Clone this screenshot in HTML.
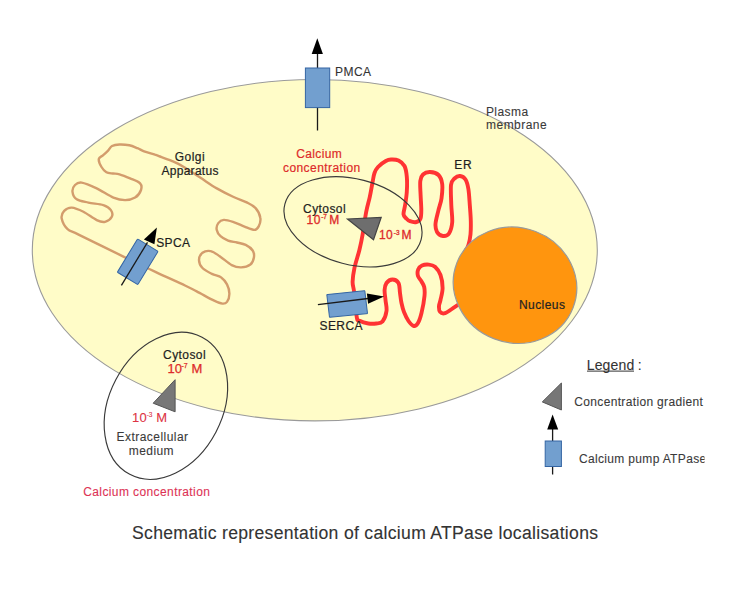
<!DOCTYPE html>
<html><head><meta charset="utf-8"><style>
html,body{margin:0;padding:0;background:#fff;width:734px;height:599px;overflow:hidden}
svg{display:block}
text{font-family:"Liberation Sans", sans-serif}
</style></head><body>
<svg width="734" height="599" viewBox="0 0 734 599">
<defs><clipPath id="clip"><rect x="0" y="0" width="704.5" height="599"/></clipPath></defs>
<g clip-path="url(#clip)">
<ellipse cx="314.8" cy="250.2" rx="282.5" ry="170.7" fill="#fffcc8" stroke="#9a9a9a" stroke-width="1.1"/>
<path d="M98.8,159.0 C99.1,157.0 101.7,156.5 103.2,155.1 C104.8,153.7 106.6,152.1 108.1,150.6 C109.6,149.1 110.1,147.0 112.0,146.0 C113.9,145.0 116.6,144.6 119.5,144.5 C122.4,144.4 126.3,144.7 129.3,145.3 C132.3,145.9 135.0,147.2 137.5,148.2 C140.0,149.2 141.2,150.3 144.1,151.4 C147.0,152.5 152.3,153.8 155.0,154.7 C157.7,155.5 157.2,155.5 160.0,156.5 C162.8,157.5 167.8,159.2 171.7,160.9 C175.6,162.6 178.7,163.9 183.4,166.7 C188.1,169.5 194.5,174.0 200.1,177.6 C205.7,181.2 211.2,185.2 216.8,188.4 C222.4,191.6 228.6,194.7 233.6,197.0 C238.6,199.3 243.1,200.6 246.7,202.4 C250.3,204.2 253.1,205.4 255.4,207.9 C257.7,210.4 259.8,214.6 260.3,217.7 C260.9,220.8 259.7,224.4 258.7,226.4 C257.7,228.4 256.7,229.9 254.3,229.9 C251.9,229.9 247.9,227.9 244.5,226.6 C241.1,225.3 237.0,223.2 233.6,222.1 C230.2,221.0 226.4,219.7 223.8,219.9 C221.2,220.1 219.5,221.5 218.3,223.1 C217.1,224.7 216.3,227.5 216.7,229.7 C217.1,231.9 218.6,234.4 220.5,236.2 C222.4,238.0 225.3,239.5 228.1,240.6 C230.8,241.7 234.1,241.8 237.0,242.5 C239.9,243.2 243.1,243.6 245.7,244.9 C248.3,246.2 251.3,248.4 252.7,250.5 C254.1,252.6 254.3,255.2 253.9,257.5 C253.5,259.8 252.5,262.9 250.4,264.5 C248.3,266.1 244.2,267.3 241.1,267.4 C238.0,267.5 235.2,266.9 231.7,265.1 C228.2,263.3 223.5,258.7 220.0,256.4 C216.5,254.1 213.6,251.7 210.7,251.1 C207.8,250.5 204.4,251.3 202.5,252.8 C200.6,254.3 199.0,257.4 199.0,259.9 C199.0,262.4 200.3,265.7 202.5,268.0 C204.7,270.3 208.8,272.3 211.9,273.9 C215.0,275.5 218.7,275.6 221.2,277.4 C223.7,279.1 225.6,281.7 227.0,284.4 C228.4,287.1 229.4,290.8 229.4,293.7 C229.4,296.6 228.2,300.2 227.0,301.9 C225.8,303.5 224.5,303.8 222.4,303.6 C220.3,303.4 218.5,302.7 214.2,300.7 C209.9,298.7 201.6,293.9 196.7,291.4 C191.8,288.9 191.9,288.8 185.0,285.5 C178.1,282.2 165.8,276.8 155.4,271.9 C145.1,267.0 135.6,262.5 122.9,256.3 C110.2,250.1 88.3,239.3 79.1,234.8 C69.9,230.3 70.5,231.8 67.6,229.1 C64.7,226.4 62.3,221.5 61.7,218.5 C61.1,215.5 62.5,212.7 64.2,210.9 C65.9,209.1 68.5,207.4 71.7,207.6 C74.9,207.8 79.2,209.7 83.4,211.8 C87.6,213.9 93.1,218.4 96.7,220.1 C100.3,221.8 102.6,222.4 105.1,221.8 C107.6,221.2 110.8,218.8 111.8,216.8 C112.8,214.9 112.3,212.1 110.9,210.1 C109.5,208.1 107.2,206.3 103.4,205.1 C99.7,203.8 92.9,203.6 88.4,202.6 C84.0,201.6 79.4,201.1 76.7,199.3 C74.0,197.5 72.8,194.2 72.5,191.8 C72.2,189.4 73.5,186.5 75.0,185.0 C76.5,183.5 78.1,182.0 81.7,182.6 C85.3,183.2 91.4,185.9 96.7,188.4 C102.0,190.9 108.7,195.7 113.4,197.6 C118.1,199.5 121.5,200.1 125.1,200.1 C128.7,200.1 132.4,199.3 135.1,197.6 C137.8,195.9 140.2,192.4 141.0,190.0 C141.8,187.6 141.9,185.3 140.1,183.4 C138.3,181.5 133.5,179.9 130.1,178.4 C126.7,176.9 122.3,175.1 119.5,174.3 C116.7,173.5 115.2,173.8 113.0,173.5 C110.8,173.2 108.3,173.4 106.4,172.3 C104.5,171.2 102.8,169.2 101.5,167.0 C100.2,164.8 98.5,161.0 98.8,159.0Z" fill="none" stroke="#d39c6c" stroke-width="2.4"/>
<g transform="translate(137.7,261.8) rotate(31.3)"><rect x="-12" y="-19.5" width="24" height="39" rx="1" fill="#729fcf" stroke="#3465a4" stroke-width="1"/></g>
<line x1="121.4" y1="285.3" x2="147.5" y2="242.3" stroke="#1a1a1a" stroke-width="1.3"/>
<polygon points="156.9,227.5 143.9,239.6 154.4,244.3" fill="#000"/>
<line x1="317.5" y1="53" x2="317.5" y2="130.5" stroke="#1a1a1a" stroke-width="1.3"/>
<polygon points="317.3,38.3 311.7,53.9 322.9,53.9" fill="#000"/>
<rect x="305.4" y="68" width="24.3" height="39.6" fill="#729fcf" stroke="#3465a4" stroke-width="1"/>
<path d="M465.0,252.0 C465.6,250.8 467.5,247.9 468.4,245.0 C469.3,242.1 470.1,238.4 470.5,234.4 C470.9,230.4 470.9,225.9 470.8,221.0 C470.7,216.1 470.2,210.3 469.8,205.0 C469.4,199.7 469.1,193.2 468.4,189.0 C467.7,184.8 466.9,181.7 465.5,179.5 C464.1,177.3 461.8,176.2 460.0,176.0 C458.2,175.8 456.0,177.0 454.5,178.5 C453.0,180.0 451.5,180.6 451.0,185.0 C450.5,189.4 451.1,198.8 451.3,205.0 C451.5,211.2 452.6,217.7 452.2,222.4 C451.8,227.2 450.5,231.2 449.0,233.5 C447.5,235.8 445.0,236.2 443.0,236.0 C441.0,235.8 438.2,234.0 437.0,232.0 C435.8,230.0 435.3,227.6 435.5,224.0 C435.7,220.4 437.4,214.7 438.4,210.4 C439.4,206.1 440.9,202.8 441.5,198.4 C442.1,194.0 442.7,187.9 442.2,184.0 C441.7,180.1 440.5,177.0 438.5,175.0 C436.5,173.0 432.6,172.1 430.0,172.0 C427.4,171.9 424.6,173.0 423.0,174.5 C421.4,176.0 420.7,177.6 420.3,181.0 C419.9,184.4 420.4,190.2 420.6,195.0 C420.8,199.8 421.3,206.1 421.3,210.0 C421.3,213.9 421.3,216.5 420.5,218.5 C419.7,220.5 418.2,221.6 416.5,222.0 C414.8,222.4 411.7,221.8 410.0,221.2 C408.3,220.6 407.4,219.7 406.3,218.5 C405.2,217.3 403.7,216.5 403.5,214.3 C403.3,212.1 404.6,208.8 405.1,205.1 C405.7,201.3 406.5,196.5 406.8,191.8 C407.1,187.1 407.2,181.0 406.8,176.7 C406.4,172.4 405.9,168.7 404.5,166.0 C403.1,163.3 400.8,161.6 398.5,160.5 C396.2,159.4 393.1,159.4 391.0,159.5 C388.9,159.6 388.0,159.8 385.8,161.0 C383.6,162.2 379.9,165.0 378.0,167.0 C376.1,169.0 375.4,170.5 374.5,173.0 C373.6,175.5 373.4,178.0 372.6,182.0 C371.8,186.0 370.9,191.8 369.8,196.8 C368.7,201.8 367.4,205.7 366.2,211.8 C365.0,217.9 363.9,227.1 362.8,233.5 C361.7,239.9 360.8,244.3 359.4,250.0 C358.0,255.7 355.6,262.4 354.5,267.7 C353.4,273.0 352.7,277.8 352.6,281.9 C352.6,286.0 353.5,286.6 354.2,292.5 C354.9,298.4 355.9,312.6 356.8,317.3 C357.7,322.0 357.6,319.8 359.5,320.8 C361.4,321.8 365.5,323.1 368.3,323.5 C371.1,323.9 373.9,323.8 376.3,323.5 C378.7,323.2 380.8,323.6 382.5,321.5 C384.2,319.4 386.0,314.6 386.5,311.0 C387.0,307.4 385.8,303.5 385.5,300.0 C385.2,296.5 384.4,292.8 384.6,290.0 C384.8,287.2 385.2,284.8 386.5,283.0 C387.8,281.2 390.5,279.5 392.5,279.5 C394.5,279.5 397.2,280.8 398.5,283.0 C399.8,285.2 399.5,289.7 400.0,293.0 C400.5,296.3 400.8,299.8 401.5,303.0 C402.2,306.2 402.8,309.0 404.0,312.0 C405.2,315.0 406.9,318.7 408.5,321.0 C410.1,323.3 412.2,325.7 413.8,326.0 C415.4,326.3 416.7,325.2 418.0,323.0 C419.3,320.8 420.4,317.5 421.5,313.0 C422.6,308.5 424.1,300.3 424.5,296.0 C424.9,291.7 424.7,289.4 424.2,287.0 C423.7,284.6 422.5,283.3 421.5,281.5 C420.5,279.7 418.6,278.0 418.0,276.0 C417.4,274.0 417.5,271.2 418.2,269.5 C418.9,267.8 420.2,266.3 422.0,265.5 C423.8,264.7 426.6,264.4 428.8,264.6 C431.0,264.8 433.1,265.1 435.0,266.8 C436.9,268.5 439.2,271.5 440.5,275.0 C441.8,278.5 442.6,283.8 442.6,288.0 C442.6,292.2 441.1,297.0 440.5,300.0 C439.9,303.0 439.1,304.0 439.0,306.0 C438.9,308.0 439.0,310.6 440.0,311.8 C441.0,313.0 442.5,314.0 445.0,313.2 C447.5,312.4 452.3,308.5 455.0,306.8 C457.7,305.1 460.0,303.6 461.0,303.0" fill="none" stroke="#ff3333" stroke-width="3.9" stroke-linecap="round" stroke-linejoin="round"/>
<ellipse cx="0" cy="0" rx="70.4" ry="42.8" transform="translate(353,221.8) rotate(14.6)" fill="none" stroke="#3a3a3a" stroke-width="1.15"/>
<polygon points="347.4,219 381.2,217.5 373.5,239.8" fill="#6e6e6e" stroke="#444" stroke-width="1.2"/>
<polygon points="326.8,294.6 364.8,290.7 367.5,313.6 329.5,317.3" fill="#729fcf" stroke="#3465a4" stroke-width="1"/>
<line x1="317.9" y1="304.7" x2="368" y2="298.5" stroke="#1a1a1a" stroke-width="1.3"/>
<polygon points="384.1,296.5 366.9,293.4 368.1,303.8" fill="#000"/>
<ellipse cx="0" cy="0" rx="62.3" ry="57.5" transform="translate(515,285.2) rotate(21)" fill="#ff950e" stroke="#9a9a9a" stroke-width="1.2"/>
<ellipse cx="0" cy="0" rx="56.5" ry="77.5" transform="translate(165.9,405.8) rotate(27.8)" fill="none" stroke="#3a3a3a" stroke-width="1.15"/>
<polygon points="175.1,379.7 175.1,411.8 153.2,403.2" fill="#777" stroke="#555" stroke-width="1"/>
<polygon points="561.4,383 561.4,410 542.3,401.9" fill="#777" stroke="#555" stroke-width="1"/>
<line x1="552.6" y1="428" x2="552.6" y2="474.5" stroke="#1a1a1a" stroke-width="1.3"/>
<polygon points="552.6,414.4 547.2,429.6 558.2,429.6" fill="#000"/>
<rect x="545.2" y="441" width="16.2" height="25.5" fill="#729fcf" stroke="#3465a4" stroke-width="1"/>
<text x="335.12" y="76" font-size="12" fill="#333" stroke="#333" stroke-width="0.1" letter-spacing="0.4" >PMCA</text>
<text x="485.92" y="115.5" font-size="12" fill="#3a3a3a" stroke="#3a3a3a" stroke-width="0.1" letter-spacing="0.45" >Plasma</text>
<text x="486.10" y="128.7" font-size="12" fill="#3a3a3a" stroke="#3a3a3a" stroke-width="0.1" letter-spacing="0.45" >membrane</text>
<text x="174.80" y="161.3" font-size="12" fill="#1e1e1e" stroke="#1e1e1e" stroke-width="0.2" letter-spacing="0.45" >Golgi</text>
<text x="161.38" y="175.4" font-size="12" fill="#1e1e1e" stroke="#1e1e1e" stroke-width="0.2" letter-spacing="0.3" >Apparatus</text>
<text x="296.19" y="157.6" font-size="12" fill="#dd2a2a" stroke="#dd2a2a" stroke-width="0.2" letter-spacing="0.36" >Calcium</text>
<text x="282.99" y="171.8" font-size="12" fill="#dd2a2a" stroke="#dd2a2a" stroke-width="0.2" letter-spacing="0.43" >concentration</text>
<text x="454.32" y="169" font-size="12" fill="#1e1e1e" stroke="#1e1e1e" stroke-width="0.2" letter-spacing="0.6" >ER</text>
<text x="156.16" y="246.6" font-size="12" fill="#1e1e1e" stroke="#1e1e1e" stroke-width="0.2" letter-spacing="0.4" >SPCA</text>
<text x="303.09" y="212.5" font-size="12" fill="#1e1e1e" stroke="#1e1e1e" stroke-width="0.2" letter-spacing="0.42" >Cytosol</text>
<text x="306.59" y="223.5" font-size="12" fill="#dd2a2a" stroke="#dd2a2a" stroke-width="0.3" letter-spacing="0.4" >10</text>
<text x="321.21" y="219.2" font-size="6.5" fill="#dd2a2a" stroke="#dd2a2a" stroke-width="0.3" >-7</text>
<text x="329.32" y="223.5" font-size="12" fill="#dd2a2a" stroke="#dd2a2a" stroke-width="0.3" letter-spacing="0.4" >M</text>
<text x="378.99" y="238.6" font-size="12" fill="#dd2a2a" stroke="#dd2a2a" stroke-width="0.3" letter-spacing="0.4" >10</text>
<text x="393.82" y="234.7" font-size="6.3" fill="#dd2a2a" stroke="#dd2a2a" stroke-width="0.3" >-3</text>
<text x="401.52" y="238.6" font-size="12" fill="#dd2a2a" stroke="#dd2a2a" stroke-width="0.3" letter-spacing="0.4" >M</text>
<text x="319.46" y="330.2" font-size="12" fill="#1e1e1e" stroke="#1e1e1e" stroke-width="0.2" letter-spacing="0.43" >SERCA</text>
<text x="518.92" y="308.5" font-size="12" fill="#222" stroke="#222" stroke-width="0.2" letter-spacing="0.45" >Nucleus</text>
<text x="163.09" y="359.1" font-size="12" fill="#1e1e1e" stroke="#1e1e1e" stroke-width="0.2" letter-spacing="0.42" >Cytosol</text>
<text x="167.41" y="372.8" font-size="13" fill="#dd2a2a" stroke="#dd2a2a" stroke-width="0.25" letter-spacing="0.2" >10</text>
<text x="181.39" y="368.0" font-size="7" fill="#dd2a2a" stroke="#dd2a2a" stroke-width="0.25" >-7</text>
<text x="191.53" y="372.8" font-size="13" fill="#dd2a2a" stroke="#dd2a2a" stroke-width="0.25" letter-spacing="0.2" >M</text>
<text x="132.01" y="422.2" font-size="13" fill="#dd3344" stroke="#dd3344" stroke-width="0.1" letter-spacing="0.2" >10</text>
<text x="146.71" y="417.4" font-size="6.5" fill="#dd3344" stroke="#dd3344" stroke-width="0.1" >-3</text>
<text x="156.13" y="422.2" font-size="13" fill="#dd3344" stroke="#dd3344" stroke-width="0.1" letter-spacing="0.2" >M</text>
<text x="116.62" y="440.5" font-size="12" fill="#3a3a3a" stroke="#3a3a3a" stroke-width="0.1" letter-spacing="0.45" >Extracellular</text>
<text x="128.70" y="454.5" font-size="12" fill="#3a3a3a" stroke="#3a3a3a" stroke-width="0.1" letter-spacing="0.45" >medium</text>
<text x="83.19" y="495.8" font-size="12" fill="#dd3355" stroke="#dd3355" stroke-width="0.1" letter-spacing="0.4" >Calcium concentration</text>
<text x="586.75" y="369.9" font-size="14" fill="#333" stroke="#333" stroke-width="0.1" letter-spacing="0.15" >Legend</text>
<rect x="587" y="370.6" width="47" height="1" fill="#333"/>
<text x="637.72" y="369.9" font-size="14" fill="#333" stroke="#333" stroke-width="0.1" >:</text>
<text x="574.29" y="406.3" font-size="12" fill="#3a3a3a" stroke="#3a3a3a" stroke-width="0.1" letter-spacing="0.34" >Concentration gradient</text>
<text x="578.89" y="463.4" font-size="12" fill="#3a3a3a" stroke="#3a3a3a" stroke-width="0.1" letter-spacing="0.34" >Calcium pump ATPase</text>
<text x="132.00" y="538.7" font-size="17.6" fill="#333" stroke="#333" stroke-width="0.12" letter-spacing="0.3" >Schematic representation of calcium ATPase localisations</text>
</g>
</svg>
</body></html>
